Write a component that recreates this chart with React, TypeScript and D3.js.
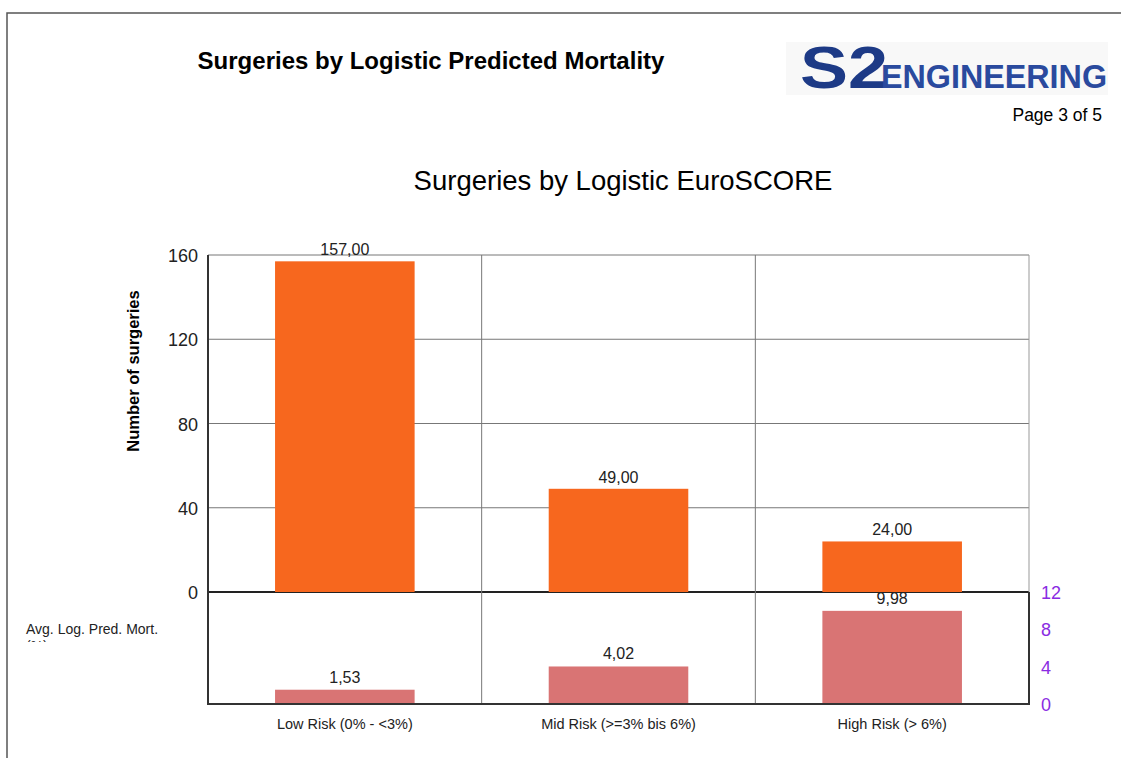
import React, { useEffect, useRef } from 'react';
import * as d3 from 'd3';

const categories = ['Low Risk (0% - <3%)', 'Mid Risk (>=3% bis 6%)', 'High Risk (> 6%)'];
const surgeries = [157, 49, 24];
const avgMortality = [1.53, 4.02, 9.98];
const leftTicks = [0, 40, 80, 120, 160];
const rightTicks = [0, 4, 8, 12];

const fmt = (v: number) => v.toFixed(2).replace('.', ',');

const App = () => {
  const svgRef = useRef<SVGSVGElement>(null);

  useEffect(() => {
    const width = 1121;
    const height = 758;
    const svg = d3.select(svgRef.current);
    svg.selectAll('*').remove();
    svg.attr('width', width).attr('height', height).style('font-family', 'Liberation Sans, Arial, sans-serif');

    // page frame
    svg.append('path').attr('d', `M7,${height}V13H${width}`).attr('fill', 'none').attr('stroke', '#555').attr('stroke-width', 1.5);

    svg.append('text').attr('x', 431).attr('y', 69).attr('text-anchor', 'middle')
      .style('font-size', '24px').style('font-weight', 'bold').text('Surgeries by Logistic Predicted Mortality');

    // logo
    svg.append('rect').attr('x', 786).attr('y', 42).attr('width', 322).attr('height', 53).attr('fill', '#f8f8f8');
    svg.append('text').attr('x', 800).attr('y', 88).attr('textLength', 88).attr('lengthAdjust', 'spacingAndGlyphs')
      .style('font-size', '60px').style('font-weight', 'bold').attr('fill', '#1d3a86').text('S2');
    svg.append('text').attr('x', 881).attr('y', 88).attr('textLength', 226).attr('lengthAdjust', 'spacingAndGlyphs')
      .style('font-size', '33px').style('font-weight', 'bold').attr('fill', '#2a4a9e').text('ENGINEERING');

    svg.append('text').attr('x', 1102).attr('y', 121).attr('text-anchor', 'end').style('font-size', '17.5px').text('Page 3 of 5');

    svg.append('text').attr('x', 623).attr('y', 190).attr('text-anchor', 'middle').style('font-size', '27.5px')
      .text('Surgeries by Logistic EuroSCORE');

    const left = 208;
    const right = 1029;
    const x = d3.scaleBand<string>().domain(categories).range([left, right]).padding(0);
    const barW = x.bandwidth() * 0.51;

    const yTop = d3.scaleLinear().domain([0, 160]).range([592, 255]);
    const yBot = d3.scaleLinear().domain([0, 12]).range([704, 592]);

    // top grid
    leftTicks.forEach(t => {
      svg.append('line').attr('x1', left).attr('x2', right).attr('y1', yTop(t)).attr('y2', yTop(t))
        .attr('stroke', t === 0 ? '#222' : '#777').attr('stroke-width', t === 0 ? 2 : 1);
      svg.append('text').attr('x', 198).attr('y', yTop(t) + 7).attr('text-anchor', 'end')
        .style('font-size', '18px').attr('fill', '#222').text(t);
    });
    categories.slice(1).forEach(c => {
      svg.append('line').attr('x1', x(c)!).attr('x2', x(c)!).attr('y1', 255).attr('y2', 704).attr('stroke', '#777');
    });
    svg.append('line').attr('x1', right).attr('x2', right).attr('y1', 255).attr('y2', 592).attr('stroke', '#999');

    svg.append('text').attr('transform', 'rotate(-90)').attr('x', -371).attr('y', 139).attr('text-anchor', 'middle')
      .style('font-size', '16.5px').style('font-weight', 'bold').text('Number of surgeries');

    // top bars
    svg.selectAll('.bar-top').data(surgeries).enter().append('rect')
      .attr('x', (d, i) => x(categories[i])! + (x.bandwidth() - barW) / 2)
      .attr('y', d => yTop(d)).attr('width', barW).attr('height', d => yTop(0) - yTop(d)).attr('fill', '#f7671e');
    svg.selectAll('.lab-top').data(surgeries).enter().append('text')
      .attr('x', (d, i) => x(categories[i])! + x.bandwidth() / 2).attr('y', d => yTop(d) - 6)
      .attr('text-anchor', 'middle').style('font-size', '16px').attr('fill', '#222').text(d => fmt(d));

    // bottom bars
    svg.selectAll('.bar-bot').data(avgMortality).enter().append('rect')
      .attr('x', (d, i) => x(categories[i])! + (x.bandwidth() - barW) / 2)
      .attr('y', d => yBot(d)).attr('width', barW).attr('height', d => yBot(0) - yBot(d)).attr('fill', '#d97474');
    svg.selectAll('.lab-bot').data(avgMortality).enter().append('text')
      .attr('x', (d, i) => x(categories[i])! + x.bandwidth() / 2).attr('y', d => yBot(d) - 7)
      .attr('text-anchor', 'middle').style('font-size', '16px').attr('fill', '#222').text(d => fmt(d));

    // bottom frame
    svg.append('path').attr('d', `M${left},592V704H${right}V592`).attr('fill', 'none').attr('stroke', '#333').attr('stroke-width', 2);
    svg.append('line').attr('x1', left).attr('x2', left).attr('y1', 255).attr('y2', 592).attr('stroke', '#333').attr('stroke-width', 2);

    rightTicks.forEach(t => {
      svg.append('text').attr('x', 1041).attr('y', yBot(t) + 7).style('font-size', '18px').attr('fill', '#8a2be2').text(t);
    });

    // category labels
    categories.forEach(c => {
      svg.append('text').attr('x', x(c)! + x.bandwidth() / 2).attr('y', 729).attr('text-anchor', 'middle')
        .style('font-size', '14.5px').attr('fill', '#222').text(c);
    });

    // left label of lower panel (second line clipped)
    const defs = svg.append('defs');
    defs.append('clipPath').attr('id', 'clipLab').append('rect').attr('x', 0).attr('y', 600).attr('width', 200).attr('height', 42);
    const lab = svg.append('g').attr('clip-path', 'url(#clipLab)');
    lab.append('text').attr('x', 26).attr('y', 634).style('font-size', '14px').attr('fill', '#222').text('Avg. Log. Pred. Mort.');
    lab.append('text').attr('x', 26).attr('y', 651).style('font-size', '14px').attr('fill', '#222').text('(%)');
  }, []);

  return <svg ref={svgRef} style={{ position: 'absolute', left: 0, top: 0 }}></svg>;
};

export default App;
